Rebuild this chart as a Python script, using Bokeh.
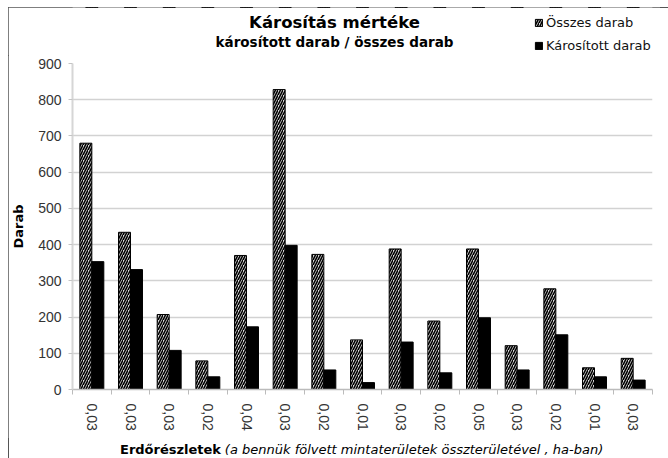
import numpy as np
from bokeh.plotting import figure
from bokeh.layouts import column
from bokeh.models import (ColumnDataSource, FixedTicker, Range1d, Legend, LegendItem, Label, Div)
from bokeh.transform import dodge
from bokeh.embed import file_html
from bokeh.resources import INLINE

# ---- data ----
area_labels = ["0,03", "0,03", "0,03", "0,02", "0,04", "0,03", "0,02", "0,01",
               "0,03", "0,02", "0,05", "0,03", "0,02", "0,01", "0,03"]
osszes = [680, 434, 207, 79, 370, 828, 373, 137, 388, 189, 388, 121, 278, 60, 86]
karositott = [353, 331, 108, 35, 173, 398, 54, 19, 131, 46, 198, 54, 151, 35, 26]
y_ticks = [0, 100, 200, 300, 400, 500, 600, 700, 800, 900]
series_names = ["Összes darab", "Károsított darab"]

HATCH = dict(fill_color="#d9d9d9", line_color="black", line_width=1,
             hatch_pattern="right_diagonal_line", hatch_color="black",
             hatch_scale=5, hatch_weight=1.6)
SOLID = dict(fill_color="black", line_color="black", line_width=1)

idx = list(range(len(area_labels)))
src = ColumnDataSource(dict(x=idx, osszes=osszes, karositott=karositott))
bw = 0.31

# ---------------- header (titles + legend) ----------------
# frame of this header is aligned by the column layout with the main frame (page x 70..652)
head = figure(width=652, height=48, output_backend="svg", toolbar_location=None,
              x_range=Range1d(-0.5, len(idx) - 0.5), y_range=Range1d(-2, -1),
              x_axis_location=None, y_axis_location=None,
              min_border_left=62, min_border_right=8, min_border_top=0, min_border_bottom=0)
head.grid.visible = False
head.outline_line_color = None
head.background_fill_color = "white"
head.border_fill_color = "white"
# legend renderers (their bars lie outside this header's y-range, so only the swatches show)
h1 = head.vbar(x="x", top="osszes", width=bw, source=src, **HATCH)
h2 = head.vbar(x="x", top="karositott", width=bw, source=src, **SOLID)
head.add_layout(Label(x=262, y=33, x_units="screen", y_units="screen", text="Károsítás mértéke",
                      text_align="center", text_baseline="middle", text_font="DejaVu Sans",
                      text_font_style="bold", text_font_size="16.5px", text_color="black"))
head.add_layout(Label(x=262, y=14, x_units="screen", y_units="screen",
                      text="károsított darab / összes darab",
                      text_align="center", text_baseline="middle", text_font="DejaVu Sans",
                      text_font_style="bold", text_font_size="13.5px", text_color="black"))
legend = Legend(items=[LegendItem(label=series_names[0], renderers=[h1]),
                       LegendItem(label=series_names[1], renderers=[h2])],
                location=(462, 2), padding=0, margin=0, spacing=8,
                glyph_width=9, glyph_height=9, label_height=14, label_standoff=3,
                label_text_font="DejaVu Sans", label_text_font_size="13px",
                label_text_color="#111111", border_line_color=None,
                background_fill_alpha=0)
head.add_layout(legend, "center")

# ---------------- main chart ----------------
p = figure(width=652, height=383, output_backend="svg", toolbar_location=None,
           x_range=Range1d(-0.5, len(idx) - 0.5), y_range=Range1d(0, 900),
           min_border_left=62, min_border_right=8, min_border_top=8, min_border_bottom=49)
p.outline_line_color = None
p.background_fill_color = "white"
p.border_fill_color = "white"

r1 = p.vbar(x=dodge("x", -bw / 2, range=p.x_range), top="osszes", width=bw, source=src, **HATCH)
r2 = p.vbar(x=dodge("x", bw / 2, range=p.x_range), top="karositott", width=bw, source=src, **SOLID)

p.xgrid.grid_line_color = None
p.ygrid.grid_line_color = "#d2d2d2"
p.ygrid.grid_line_width = 1.5
p.yaxis.ticker = FixedTicker(ticks=y_ticks)
p.yaxis.axis_line_color = "#d6d6d6"
p.yaxis.axis_line_width = 2
p.yaxis.major_tick_line_color = "#c4c4c4"
p.yaxis.major_tick_out = 4
p.yaxis.major_tick_in = 0
p.yaxis.minor_tick_line_color = None
p.yaxis.major_label_standoff = 7
p.yaxis.major_label_text_font = "Liberation Sans"
p.yaxis.major_label_text_font_size = "14px"
p.yaxis.major_label_text_color = "#333333"
p.yaxis.axis_label = "Darab"
p.yaxis.axis_label_text_font = "DejaVu Sans"
p.yaxis.axis_label_text_font_style = "bold"
p.yaxis.axis_label_text_font_size = "13px"
p.yaxis.axis_label_text_color = "black"
p.yaxis.axis_label_standoff = 9

p.xaxis.ticker = FixedTicker(ticks=idx, minor_ticks=[i - 0.5 for i in range(len(idx) + 1)])
p.xaxis.major_label_overrides = {i: lab for i, lab in zip(idx, area_labels)}
p.xaxis.major_label_orientation = "vertical"
p.xaxis.major_tick_out = 0
p.xaxis.major_tick_in = 0
p.xaxis.minor_tick_out = 5
p.xaxis.minor_tick_in = 0
p.xaxis.minor_tick_line_color = "#bbbbbb"
p.xaxis.axis_line_color = "#bbbbbb"
p.xaxis.axis_line_width = 1.5
p.xaxis.major_label_standoff = 9
p.xaxis.major_label_text_font = "Liberation Sans"
p.xaxis.major_label_text_font_size = "14px"
p.xaxis.major_label_text_color = "#333333"

# ---------------- x-axis title ----------------
xlabel = Div(text='<span style="font-weight:bold;font-size:13px">Erdőrészletek</span> '
                  '<span style="font-style:italic;font-size:13px">(a bennük fölvett '
                  'mintaterületek összterületével , ha-ban)</span>',
             width=652, height=20,
             styles={"font-family": "DejaVu Sans", "color": "black", "line-height": "14px",
                     "padding-left": "107px", "background-color": "white",
                     "white-space": "nowrap"})

layout = column(head, p, xlabel, spacing=0)
layout.margin = (7, 8, 0, 8)
layout.styles = {"outline": "1.5px solid #555", "outline-offset": "-1px",
                 "background-color": "white"}

open("out.html", "w").write(file_html(layout, INLINE))
